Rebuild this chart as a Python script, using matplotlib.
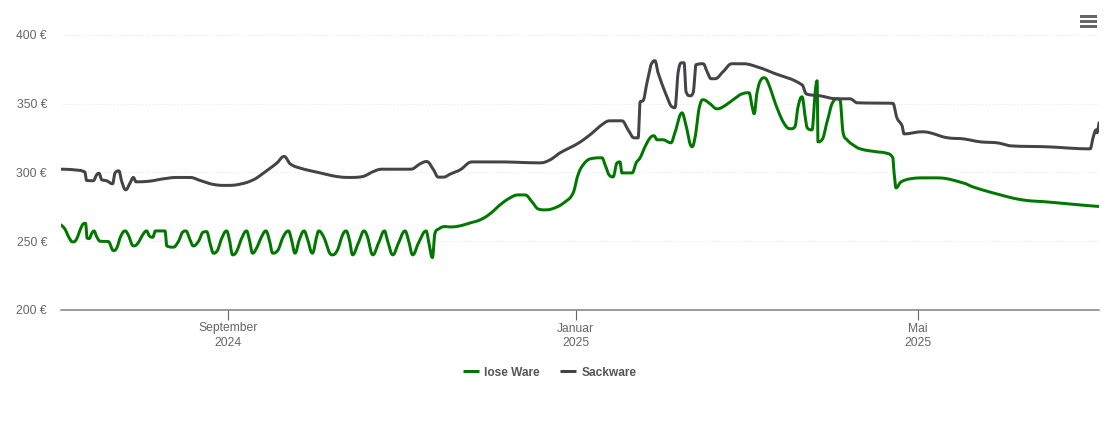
import matplotlib
matplotlib.use("Agg")
import matplotlib.pyplot as plt
import matplotlib.dates as mdates
from matplotlib.patches import Rectangle
from matplotlib.lines import Line2D
from datetime import date
import numpy as np

plt.rcParams['font.family'] = ['Liberation Sans', 'DejaVu Sans']

series_names = ["lose Ware", "Sackware"]
y_ticks = [200, 250, 300, 350, 400]
y_labels = ["200 €", "250 €", "300 €", "350 €", "400 €"]
x_tick_dates = [date(2024, 9, 1), date(2025, 1, 1), date(2025, 5, 1)]
x_tick_labels = ["September\n2024", "Januar\n2025", "Mai\n2025"]
base_date = date(2024, 9, 1)

# days since 1 Sep 2024 / euro per tonne
lose_days = [-58.6,-57.2,-56,-54.5,-53.3,-51.9,-50.8,-50,-49.4,-48.7,-47.8,-47,-46.1,-44.9,-42,-40.2,-39.1,-37.7,-36.1,-35,
 -33.2,-31.8,-29.7,-28.6,-27.6,-26.4,-25.5,-22.1,-21.5,-19.2,-17.4,-15.7,-14.8,-13.3,-12.2,-10.4,-8.7,-7.5,-6.3,-5.1,-4,-2.2,-0.5,
 .5,1.6,3,4.8,6.5,7.5,8.6,10,11.8,13.3,14.5,15.7,17.1,19.4,21.2,22.3,23.5,25,26.7,27.8,29.6,31.1,31.8,33.5,36.4,38.1,40.2,41.4,42.6,
 43.7,45.7,47.7,48.9,50.8,52.8,54.9,55.9,57.8,59.8,62.1,63.3,64.8,66.8,69.5,70.3,71.7,72.6,73.8,76.1,
 77.9,81.4,84.9,88.4,91.9,95.4,98.9,101.8,104.2,106.7,108.8,111.2,114.7,118.2,121.1,122.8,124.6,127,131.2,132.3,134,135.1,136.5,137.5,
 138.2,141.8,143.2,144.6,146.3,148.1,149.5,150.5,152.6,155.4,156.8,159.3,160.4,162.8,163.9,165.6,166.7,169.1,171.6,173.7,177.2,180.4,
 182.8,183.9,184.6,185.6,187,188.1,189.5,192.6,195.4,197.5,198.9,200,201.4,202.5,203.2,204.9,206,206.7,207,208.4,210.2,212.3,213.7,
 214.7,215.8,217.2,219.3,221.8,227.7,230.5,233.3,233.7,234.4,235.8,236.8,239.3,243.5,248.8,257.9,261.4,269.8,278.6,287.4,298.9,305.6]
lose_vals = [261.9,258.8,253.4,249.5,251,258.3,262.6,263.1,252.2,252,255.8,257.5,253.4,250,249.8,243.2,244.9,253.4,257.5,254.6,
 246.6,248.1,255.4,257.5,253.9,252.9,257.5,257.5,246.6,245.7,249.8,257,257.5,251,246.6,249.8,256.6,257,248.6,241.3,242.5,252.2,257.5,
 251,240.1,242.5,252.2,257.5,251,241.3,244.9,253.4,257.5,251,241.3,242.5,253.4,257.5,251,241.3,251,257.5,252.2,241.3,253.4,257.5,253.4,
 240.1,242.5,254.6,257.5,251,240.1,248.6,257.5,253.4,240.1,248.6,257.5,251,240.1,248.6,257.5,251,240.1,248.6,257.5,251,238.1,255.8,258.8,260.7,
 260.4,261.2,263.3,265.5,269.9,276.4,281.5,283.7,283.7,278.6,273.5,272.8,274.3,278.6,285.2,298.3,305.6,309.9,310.7,305.6,297.6,296.8,307,307.7,
 299.7,299.7,307,310.7,318.7,325.2,326.7,323.8,323.8,321.6,328.9,343.4,336.9,318.7,325.9,349.2,352.9,350,346.3,347.8,352.9,357.2,
 358,347.8,342.7,358,367.4,368.9,365.3,347.1,334.7,331.8,333.2,347.8,355.1,340.5,332.5,331,358,366.7,322.3,323.8,336.9,351.4,353.6,
 352.9,328.9,323.8,320.1,317.2,315,314.3,310.7,299.7,288.8,292.5,293.9,295.4,296.1,296.1,292.5,289.5,284.4,280.1,278.6,276.4,275.3]

sack_days = [-58.6,-54.3,-50.2,-49.6,-47.3,-46.1,-45.3,-44.3,-42.6,-40.5,-39.7,-38.3,-37.3,-35.9,-34.4,-33.2,-32.3,-28.5,-22.7,-18,-13.3,-9.8,
 -5.1,-0.5,4.2,8.9,12.4,17.1,19.7,21.8,25.3,31.1,38.1,42.8,46.9,51,53.9,64.1,67.4,69.7,72.1,73.8,75.6,77.9,81.4,85.6,95.4,109.5,113,116.5,
 122.5,127,131.6,134,138.2,140.4,142.5,143.9,144.6,145.6,147,148.8,149.8,150.9,154,155.8,156.8,157.9,159.3,160,160.7,162.1,163.2,164.2,166.7,
 168.1,169.5,170.9,173.7,176.8,180.7,185.6,191.2,201.4,202.8,207.7,213.7,218.2,220.7,233.3,234.7,236.5,237.2,243.5,246.3,252.6,257.9,263.9,
 269.8,274.4,287.4,302.5,303.5,304.6,304.9,305.6]
sack_vals = [302.4,302,300.3,294.2,294,298.3,299.5,294.7,294,291.8,299.5,301.2,293.5,287.4,292.2,296.4,293.2,293.5,295.4,296.4,296.4,294.2,
 291.3,290.6,291.5,294.7,299.5,306.8,311.7,306.3,303.2,300.3,297.1,296.4,296.9,300.7,302.4,302.4,306.3,308,302,296.6,296.6,298.8,301.9,307.7,307.7,307,309.2,314.3,
 320.8,327.4,335.4,337.6,337.6,331,325.2,325.2,351.4,352.2,365.3,379.8,381.3,372.5,355.1,347.8,347.1,372.5,379.8,379.8,358.7,355.8,358,378.4,379.1,
 373.3,368.2,368.2,373.3,379.1,379.1,376.9,372.5,363.8,357.2,355.8,353.6,353.6,350.7,350.3,339.8,334,328.1,329.6,328.9,325.2,324.5,322.3,
 321.6,319.4,318.7,317.2,325.2,331,328.9,336.1]

GREEN = "#007800"
DARK = "#434348"
TXT = "#666666"


def spline_path(xs, ys, smoothing=1.5, samples=8):
    """Rounded line through the read points, the way a spline chart renders them."""
    xs, ys = np.asarray(xs, float), np.asarray(ys, float)
    n = len(xs)
    lefts, rights = [(xs[0], ys[0])], [(xs[0], ys[0])]
    for i in range(1, n - 1):
        x, y = xs[i], ys[i]
        lx, ly = (smoothing * x + xs[i - 1]) / (smoothing + 1), (smoothing * y + ys[i - 1]) / (smoothing + 1)
        rx, ry = (smoothing * x + xs[i + 1]) / (smoothing + 1), (smoothing * y + ys[i + 1]) / (smoothing + 1)
        c = (ry - ly) * (rx - x) / (rx - lx) + y - ry
        ly += c
        ry += c
        if ly > max(ys[i - 1], y) or ly < min(ys[i - 1], y):
            ly = max(ys[i - 1], y) if ly > max(ys[i - 1], y) else min(ys[i - 1], y)
            ry = 2 * y - ly
        if ry > max(ys[i + 1], y) or ry < min(ys[i + 1], y):
            ry = max(ys[i + 1], y) if ry > max(ys[i + 1], y) else min(ys[i + 1], y)
            ly = 2 * y - ry
        lefts.append((lx, ly))
        rights.append((rx, ry))
    lefts.append((xs[-1], ys[-1]))
    rights.append((xs[-1], ys[-1]))
    t = np.linspace(0, 1, samples, endpoint=False)[:, None]
    parts = []
    for i in range(n - 1):
        p0, p1 = np.array([xs[i], ys[i]]), np.array(rights[i])
        p2, p3 = np.array(lefts[i + 1]), np.array([xs[i + 1], ys[i + 1]])
        parts.append((1 - t) ** 3 * p0 + 3 * (1 - t) ** 2 * t * p1 + 3 * (1 - t) * t ** 2 * p2 + t ** 3 * p3)
    parts.append(np.array([[xs[-1], ys[-1]]]))
    return np.vstack(parts).T


W, H = 1110, 422
fig = plt.figure(figsize=(W / 100, H / 100), dpi=100, facecolor="white")
ax = fig.add_axes([61 / W, (H - 310) / H, (1099 - 61) / W, (310 - 35) / H])

base = mdates.date2num(base_date)
lx, ly = spline_path(base + np.array(lose_days), lose_vals)
sx, sy = spline_path(base + np.array(sack_days), sack_vals)
ax.plot(lx, ly, color=GREEN, lw=2.15, solid_joinstyle="round", solid_capstyle="round")
ax.plot(sx, sy, color=DARK, lw=2.15, solid_joinstyle="round", solid_capstyle="round")

ax.set_xlim(base - 58.6, base + 305.6)
ax.set_ylim(200, 400)
ax.set_yticks(y_ticks, y_labels)
ax.set_xticks([mdates.date2num(d) for d in x_tick_dates], x_tick_labels)
ax.grid(axis="y", color="#e6e6e6", lw=0.7, ls=(0, (1, 2)))
ax.grid(axis="x", visible=False)
ax.set_axisbelow(True)
for s in ["top", "left", "right"]:
    ax.spines[s].set_visible(False)
ax.spines["bottom"].set_color("#808080")
ax.spines["bottom"].set_linewidth(1.1)
ax.tick_params(axis="y", length=0, pad=10, labelsize=8.7, labelcolor=TXT)
ax.tick_params(axis="x", length=7.2, width=0.8, color="#666666", pad=1.8, labelsize=8.7, labelcolor=TXT)
for t in ax.get_xticklabels():
    t.set_linespacing(1.25)

handles = [Line2D([], [], color=GREEN, lw=2.15, solid_capstyle="butt"),
           Line2D([], [], color=DARK, lw=2.15, solid_capstyle="butt")]
fig.legend(handles, series_names, loc="center", bbox_to_anchor=(549.5 / W, (H - 372.5) / H), ncol=2, frameon=False,
           handlelength=1.35, handletextpad=0.42, columnspacing=1.75,
           prop={"size": 8.6, "weight": "bold"}, labelcolor="#555555")

for y in (16.3, 21.3, 26.3):
    fig.add_artist(Rectangle((1079.5 / W, (H - y - 1.2) / H), 17 / W, 2.4 / H, transform=fig.transFigure,
                             facecolor="#666666", edgecolor="none"))

fig.savefig("out.png", dpi=100)
